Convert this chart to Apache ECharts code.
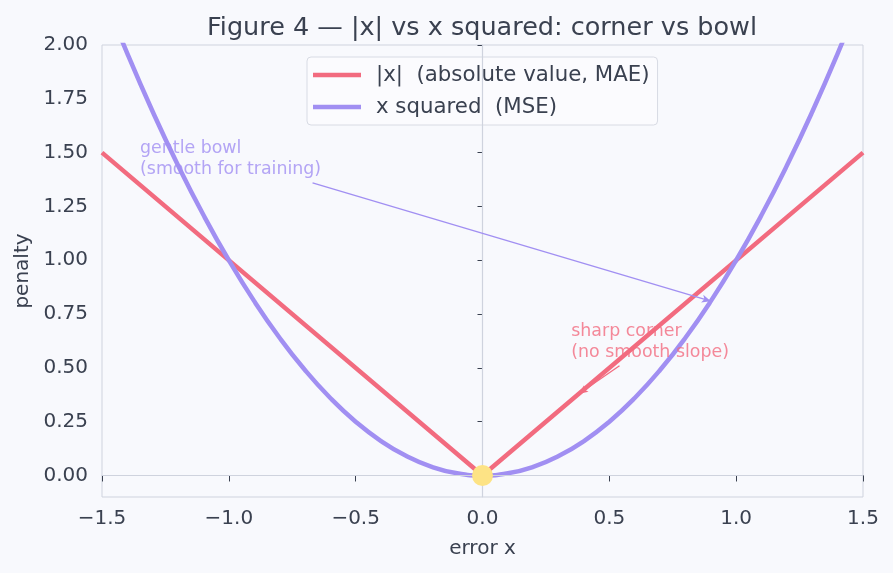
<!DOCTYPE html>
<html lang="en">
  <head>
    <meta charset="utf-8" />
    <title>Figure 4</title>
    <script src="https://cdn.jsdelivr.net/npm/echarts@6/dist/echarts.min.js"></script>
    <style>
      html, body { margin: 0; padding: 0; background: #f8f9fd; }
      #chart { width: 893px; height: 573px; }
    </style>
  </head>
  <body>
    <div id="chart"></div>
    <script>
      // curve samples
      var xs = [-1.5, -1.4, -1.3, -1.2, -1.1, -1.0, -0.9, -0.8, -0.7, -0.6, -0.5, -0.4, -0.3, -0.2, -0.1, 0.0,
        0.1, 0.2, 0.3, 0.4, 0.5, 0.6, 0.7, 0.8, 0.9, 1.0, 1.1, 1.2, 1.3, 1.4, 1.5]
      var squared = [2.25, 1.96, 1.69, 1.44, 1.21, 1.00, 0.81, 0.64, 0.49, 0.36, 0.25, 0.16, 0.09, 0.04, 0.01, 0.00,
        0.01, 0.04, 0.09, 0.16, 0.25, 0.36, 0.49, 0.64, 0.81, 1.00, 1.21, 1.44, 1.69, 1.96, 2.25]
      var absX = [-1.5, 0.0, 1.5]
      var absY = [1.5, 0.0, 1.5]
      var yTicks = [0, 0.25, 0.5, 0.75, 1.0, 1.25, 1.5, 1.75, 2.0]
      var seriesNames = ['|x|  (absolute value, MAE)', 'x squared  (MSE)']
      var notes = [
        { text: 'gentle bowl\n(smooth for training)', at: [-1.35, 1.57], from: [-0.67, 1.36], to: [0.9, 0.81] },
        { text: 'sharp corner\n(no smooth slope)', at: [0.35, 0.72], from: [0.54, 0.51], to: [0.38, 0.38] }
      ]

      var red = '#f26b7f'
      var purple = '#a18ff2'
      var ink = '#3a4150'
      var spine = '#cfd3de'
      var font = 'DejaVu Sans'

      function pairs (a, b) {
        return a.map(function (v, i) { return [v, b[i]] })
      }

      var chart = echarts.init(document.getElementById('chart'))
      chart.setOption({
        backgroundColor: '#f8f9fd',
        animation: false,
        textStyle: { fontFamily: font, color: ink },
        title: {
          text: 'Figure 4 \u2014 |x| vs x squared: corner vs bowl',
          left: 477,
          textAlign: 'center',
          top: 10,
          textStyle: { fontFamily: font, fontSize: 25.5, fontWeight: 'normal', color: ink }
        },
        legend: {
          data: seriesNames,
          orient: 'vertical',
          left: 307,
          top: 57,
          padding: [7, 8, 7, 6],
          itemGap: 10,
          itemWidth: 48,
          itemHeight: 4.5,
          icon: 'rect',
          backgroundColor: '#fbfbfe',
          borderColor: '#d8dbe4',
          borderWidth: 1,
          borderRadius: 4,
          textStyle: { fontFamily: font, fontSize: 21.3, color: ink, lineHeight: 22, padding: [0, 0, 0, 10] }
        },
        grid: {
          left: 102, right: 30, top: 45, bottom: 76,
          show: true, borderColor: spine, borderWidth: 1, backgroundColor: 'transparent'
        },
        xAxis: {
          type: 'value',
          min: -1.5, max: 1.5, interval: 0.5,
          name: 'error x',
          nameLocation: 'middle',
          nameGap: 42,
          nameTextStyle: { fontFamily: font, fontSize: 20, color: ink },
          axisLine: { show: true, lineStyle: { color: spine } },
          axisTick: { show: true, length: 6, lineStyle: { color: ink } },
          axisLabel: {
            fontFamily: font, fontSize: 20, color: ink, margin: 12,
            formatter: function (v) { return v.toFixed(1).replace('-', '\u2212') }
          },
          splitLine: { show: false }
        },
        yAxis: {
          type: 'value',
          min: -0.1, max: 2.0,
          name: 'penalty',
          nameLocation: 'middle',
          nameGap: 63,
          nameTextStyle: { fontFamily: font, fontSize: 20, color: ink },
          axisLine: { show: true, lineStyle: { color: spine } },
          axisTick: { show: true, length: 5, customValues: yTicks, lineStyle: { color: ink } },
          axisLabel: {
            fontFamily: font, fontSize: 20, color: ink, margin: 14,
            customValues: yTicks,
            formatter: function (v) { return v.toFixed(2) }
          },
          splitLine: { show: false }
        },
        series: [
          {
            name: 'guides',
            type: 'line',
            data: [],
            silent: true,
            markLine: {
              silent: true,
              symbol: ['none', 'none'],
              label: { show: false },
              lineStyle: { color: spine, width: 1.2, type: 'solid' },
              data: [{ xAxis: 0 }, { yAxis: 0 }]
            }
          },
          {
            name: 'arrows',
            type: 'line',
            data: [],
            silent: true,
            markLine: {
              silent: true,
              symbol: ['none', 'arrow'],
              symbolSize: [6, 9],
              label: { show: false },
              data: notes.map(function (n, i) {
                var c = i === 0 ? purple : red
                return [
                  { coord: n.from, lineStyle: { color: c, width: 1.3, type: 'solid' } },
                  { coord: n.to }
                ]
              })
            },
            z: 2
          },
          {
            name: seriesNames[0],
            type: 'line',
            data: pairs(absX, absY),
            showSymbol: false,
            color: red,
            lineStyle: { color: red, width: 4.5 },
            z: 3
          },
          {
            name: seriesNames[1],
            type: 'line',
            data: pairs(xs, squared),
            smooth: true,
            showSymbol: false,
            color: purple,
            lineStyle: { color: purple, width: 4.5 },
            z: 3
          },
          {
            name: 'corner',
            type: 'scatter',
            data: [[0, 0]],
            symbolSize: 21,
            itemStyle: { color: '#fde385', opacity: 1 },
            z: 5
          },
          {
            name: 'notes',
            type: 'scatter',
            silent: true,
            symbolSize: 1,
            itemStyle: { color: 'rgba(0,0,0,0)' },
            data: notes.map(function (n, i) {
              return {
                value: n.at,
                label: {
                  show: true,
                  position: 'inside',
                  align: 'left',
                  verticalAlign: 'top',
                  formatter: n.text,
                  fontFamily: font,
                  fontSize: 17.4,
                  lineHeight: 21,
                  color: i === 0 ? purple : red
                }
              }
            }),
            z: 6
          }
        ]
      })
    </script>
  </body>
</html>
